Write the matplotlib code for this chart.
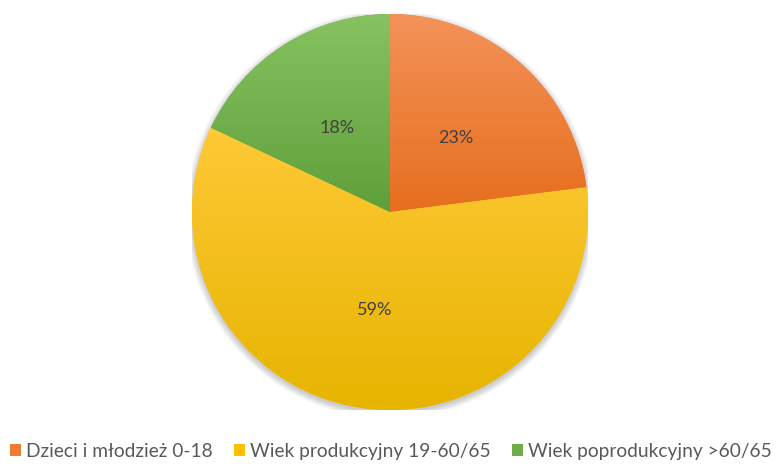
import numpy as np
import matplotlib
matplotlib.use("Agg")
import matplotlib.pyplot as plt
from matplotlib.colors import LinearSegmentedColormap
from matplotlib.patches import Circle

labels = ["Dzieci i młodzież 0-18", "Wiek produkcyjny 19-60/65", "Wiek poprodukcyjny >60/65"]
values = [23, 59, 18]
# kolory: góra / dół gradientu
top_colors = ["#F4935A", "#FFC937", "#88C262"]
bottom_colors = ["#E66E1E", "#E6B400", "#5F9F3A"]
mid_colors = ["#ED7D31", "#FFC000", "#70AD47"]

plt.rcParams["font.family"] = ["Lato", "DejaVu Sans"]

fig = plt.figure(figsize=(7.79, 4.67), dpi=100)
ax = fig.add_axes([0.2465, 0.122, 0.5083, 0.848])

wedges, texts, autotexts = ax.pie(values, colors=mid_colors, startangle=90, counterclock=False,
                                  autopct="%1.0f%%", pctdistance=0.5,
                                  wedgeprops=dict(linewidth=0),
                                  textprops=dict(color="#404040", fontsize=13))
ax.set_xlim(-1, 1)
ax.set_ylim(-1, 1)
ax.set_aspect("equal")
ax.axis("off")

# delikatny cień pod kołem
for k in range(6):
    ax.add_patch(Circle((0, -0.012), 1.0 + 0.006 * k, color="#000000", alpha=0.035,
                        lw=0, zorder=0))

# gradient pionowy w każdym wycinku
grad = np.linspace(0, 1, 256).reshape(-1, 1)
for w, c1, c2 in zip(wedges, top_colors, bottom_colors):
    w.set_zorder(1)
    ext = w.get_path().get_extents()
    cmap = LinearSegmentedColormap.from_list("g", [c1, c2])
    im = ax.imshow(grad, cmap=cmap, extent=[-1, 1, ext.y0, ext.y1], origin="upper",
                   aspect="auto", zorder=1.5)
    im.set_clip_path(w)
ax.set_xlim(-1, 1)
ax.set_ylim(-1, 1)
for t in autotexts:
    t.set_zorder(5)

fig.legend(wedges, labels, loc="lower center", bbox_to_anchor=(0.502, -0.022), ncol=3,
           frameon=False, fontsize=13.8, handlelength=0.55, handleheight=0.55,
           handletextpad=0.3, columnspacing=1.1, labelcolor="#595959")

fig.savefig("out.png", dpi=100)
